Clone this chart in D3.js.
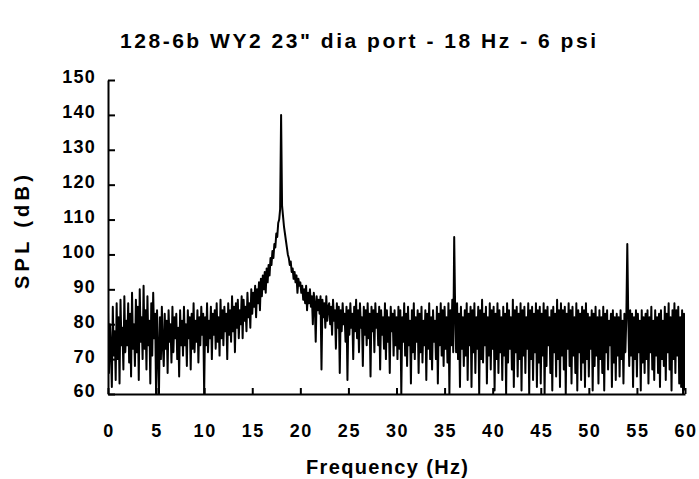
<!DOCTYPE html>
<html>
<head>
<meta charset="utf-8">
<script src="https://cdn.jsdelivr.net/npm/d3@7"></script>
<style>
  html, body { margin: 0; padding: 0; background: #fff; }
  svg { display: block; font-family: "Liberation Sans", Arial, sans-serif; font-weight: bold; }
</style>
</head>
<body>
<svg id="chart" width="699" height="479"></svg>
<script>
// ---- data ----
const title = "128-6b WY2 23\" dia port - 18 Hz - 6 psi";
const xLabel = "Frequency (Hz)";
const yLabel = "SPL (dB)";
const xTicks = [0, 5, 10, 15, 20, 25, 30, 35, 40, 45, 50, 55, 60];
const yTicks = [60, 70, 80, 90, 100, 110, 120, 130, 140, 150];
const freqStep = 0.1; // Hz between samples
// SPL (dB) samples every 0.1 Hz from 0 to 60 Hz, one row per Hz
const spl = [
  84,66,80,73,62,85,71,78,64,86,
  70,82,63,87,74,79,67,88,72,81,
  74,86,69,83,65,89,73,80,68,87,
  72,85,64,90,75,82,70,91,73,84,
  67,88,74,81,63,86,71,89,76,83,
  60,84,72,60,82,70,85,74,68,83,
  73,81,66,84,75,80,69,85,72,82,
  76,83,70,79,65,84,74,81,71,85,
  74,80,68,84,76,82,67,83,73,86,
  72,81,75,84,69,82,74,85,77,83,
  60,82,74,86,72,81,76,85,70,83,
  77,84,73,86,75,82,71,87,76,84,
  74,85,78,83,70,86,77,84,75,88,
  78,85,72,86,79,87,76,84,80,88,
  76,87,81,85,78,89,82,86,79,90,
  83,89,85,91,82,90,86,92,84,93,
  88,94,90,95,89,96,92,97,94,99,
  97,101,99,103,102,106,105,109,110,113,
  140,114,111,108,106,104,102,100,99,97,
  98,95,96,93,95,92,94,89,93,91,
  92,89,91,87,90,86,91,84,89,86,
  90,85,88,80,89,86,75,88,84,87,
  83,88,67,87,82,86,79,88,81,85,
  86,80,85,77,87,81,84,73,86,79,
  85,66,84,78,86,80,83,75,85,64,
  84,77,86,79,83,70,85,78,87,76,
  84,72,86,79,82,68,85,77,84,74,
  86,76,83,65,85,78,84,72,86,79,
  83,74,85,67,84,77,82,73,86,70,
  84,75,82,66,85,78,83,71,84,74,
  82,70,85,73,84,60,82,75,86,71,
  83,68,85,74,81,63,84,72,86,70,
  82,75,84,66,83,72,85,69,81,74,
  84,64,83,73,86,70,82,67,84,75,
  81,70,85,63,83,74,86,71,84,68,
  85,73,82,69,86,60,84,74,87,72,
  105,84,72,86,70,83,62,85,73,82,
  68,84,71,86,64,83,74,85,62,84,
  72,86,66,82,73,85,60,84,70,87,
  69,83,74,85,63,82,71,86,67,84,
  73,85,61,83,70,86,66,84,72,82,
  64,85,71,83,60,86,69,84,73,82,
  67,87,62,84,72,85,65,83,70,86,
  61,84,71,85,66,82,73,86,60,84,
  70,85,64,83,72,86,62,84,69,85,
  63,83,71,86,60,84,68,85,74,82,
  66,84,61,85,72,83,65,87,70,84,
  62,86,71,84,67,85,60,83,73,86,
  68,84,63,85,71,82,66,86,61,84,
  72,83,64,85,69,84,62,86,70,83,
  65,82,73,84,61,83,68,85,71,82,
  63,84,70,82,66,85,61,83,72,84,
  67,81,74,83,62,84,69,82,64,83,
  71,82,65,84,70,81,63,83,72,82,
  103,82,68,84,71,83,62,82,70,84,
  65,83,72,81,61,84,69,82,66,83,
  70,84,63,82,72,85,67,81,64,84,
  71,82,66,83,62,84,70,81,68,85,
  64,83,72,86,67,82,61,84,70,86,
  66,84,71,85,63,82,62,84,60,83,
  61
];

// ---- layout ----
const svg = d3.select("#chart");
const plot = { left: 108, right: 685, top: 80, bottom: 394 };

const x = d3.scaleLinear().domain([0, 60]).range([plot.left, plot.right]);
const y = d3.scaleLinear().domain([60, 150]).range([plot.bottom, plot.top]);

const data = spl.map((v, i) => ({ f: i * freqStep, v }));

// clip
svg.append("defs").append("clipPath").attr("id", "clip")
  .append("rect").attr("x", plot.left).attr("y", plot.top - 2)
  .attr("width", plot.right - plot.left).attr("height", plot.bottom - plot.top + 2);

// data line
svg.append("path")
  .datum(data)
  .attr("clip-path", "url(#clip)")
  .attr("fill", "none")
  .attr("stroke", "#000")
  .attr("stroke-width", 2)
  .attr("stroke-linejoin", "round")
  .attr("d", d3.line().x(d => x(d.f)).y(d => y(d.v)));

// y axis
const yAxis = svg.append("g")
  .attr("transform", `translate(${plot.left},0)`)
  .call(d3.axisRight(y).tickValues(yTicks).tickSize(7).tickSizeOuter(0).tickFormat(""));
yAxis.select(".domain").attr("stroke-width", 2);
yAxis.selectAll(".tick line").attr("stroke-width", 2);

// x axis
const xAxis = svg.append("g")
  .attr("transform", `translate(0,${plot.bottom})`)
  .call(d3.axisTop(x).tickValues(xTicks).tickSize(6).tickSizeOuter(0).tickFormat(""));
xAxis.select(".domain").attr("stroke-width", 2);
xAxis.selectAll(".tick line").attr("stroke-width", 2);

// y tick labels
svg.append("g").selectAll("text")
  .data(yTicks).join("text")
  .attr("x", 96)
  .attr("y", d => y(d) - 3)
  .attr("dy", "0.36em")
  .attr("text-anchor", "end")
  .attr("font-size", 18)
  .attr("letter-spacing", 1.2)
  .text(d => d);

// x tick labels
svg.append("g").selectAll("text")
  .data(xTicks).join("text")
  .attr("x", d => x(d) + 1)
  .attr("y", 437)
  .attr("text-anchor", "middle")
  .attr("font-size", 18)
  .attr("letter-spacing", 1.6)
  .text(d => d);

// title
svg.append("text")
  .attr("x", 358).attr("y", 48)
  .attr("text-anchor", "middle")
  .attr("font-size", 21)
  .attr("textLength", 476)
  .attr("lengthAdjust", "spacing")
  .text(title);

// x label
svg.append("text")
  .attr("x", 387).attr("y", 474)
  .attr("text-anchor", "middle")
  .attr("font-size", 20)
  .attr("textLength", 162)
  .attr("lengthAdjust", "spacing")
  .text(xLabel);

// y label
svg.append("text")
  .attr("transform", "translate(29,232) rotate(-90)")
  .attr("text-anchor", "middle")
  .attr("font-size", 20)
  .attr("textLength", 114)
  .attr("lengthAdjust", "spacing")
  .text(yLabel);
</script>
</body>
</html>
